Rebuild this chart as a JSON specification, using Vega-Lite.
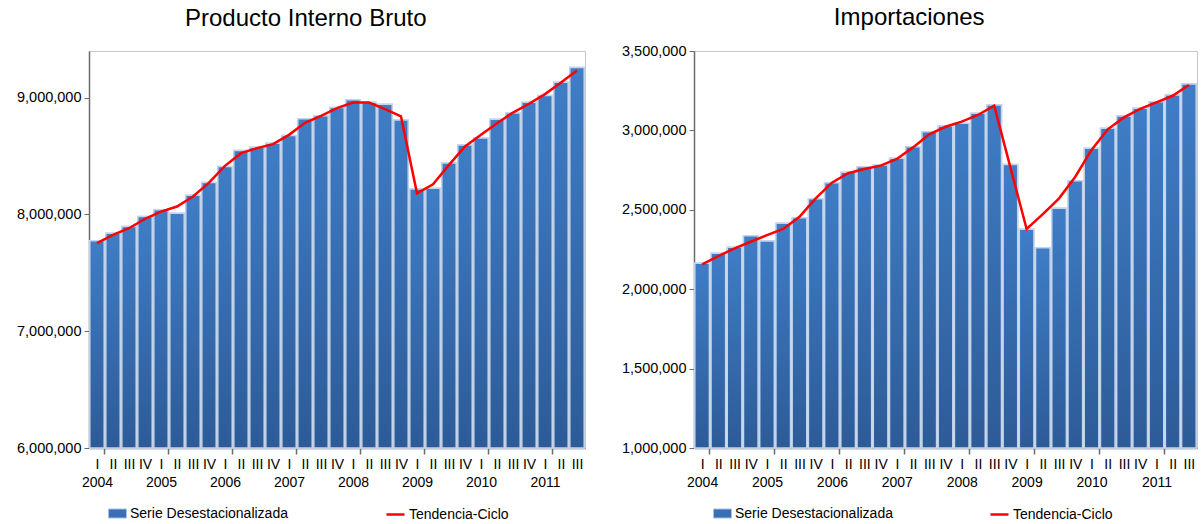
{
  "$schema": "https://vega.github.io/schema/vega-lite/v6.json",
  "padding": {"left": 15, "top": 5, "right": 7, "bottom": 0},
  "config": {
    "font": "Liberation Sans",
    "view": {"stroke": "#c8c8c8", "strokeWidth": 1},
    "title": {"fontSize": 24, "fontWeight": "normal", "color": "#000000", "anchor": "middle", "frame": "bounds"},
    "legend": {"title": null, "labelFontSize": 14, "labelColor": "#000000", "symbolSize": 324, "labelLimit": 0, "labelOffset": 3, "orient": "none"}
  },
  "spacing": 34,
  "resolve": {"scale": {"fill": "independent", "stroke": "independent"}},
  "hconcat": [
    {
      "title": {"text": "Producto Interno Bruto", "offset": 20, "dx": 5},
      "width": 496,
      "height": 397,
      "data": {"values": [
        {"k": "2004-I", "v": 7774000, "t": 7754000},
        {"k": "2004-II", "v": 7840000, "t": 7825000},
        {"k": "2004-III", "v": 7896000, "t": 7882000},
        {"k": "2004-IV", "v": 7982000, "t": 7962000},
        {"k": "2005-I", "v": 8040000, "t": 8025000},
        {"k": "2005-II", "v": 8011000, "t": 8068000},
        {"k": "2005-III", "v": 8165000, "t": 8154000},
        {"k": "2005-IV", "v": 8273000, "t": 8273000},
        {"k": "2006-I", "v": 8410000, "t": 8416000},
        {"k": "2006-II", "v": 8548000, "t": 8525000},
        {"k": "2006-III", "v": 8576000, "t": 8568000},
        {"k": "2006-IV", "v": 8610000, "t": 8602000},
        {"k": "2007-I", "v": 8676000, "t": 8682000},
        {"k": "2007-II", "v": 8820000, "t": 8785000},
        {"k": "2007-III", "v": 8845000, "t": 8845000},
        {"k": "2007-IV", "v": 8916000, "t": 8911000},
        {"k": "2008-I", "v": 8982000, "t": 8959000},
        {"k": "2008-II", "v": 8962000, "t": 8959000},
        {"k": "2008-III", "v": 8945000, "t": 8902000},
        {"k": "2008-IV", "v": 8810000, "t": 8840000},
        {"k": "2009-I", "v": 8219000, "t": 8182000},
        {"k": "2009-II", "v": 8225000, "t": 8259000},
        {"k": "2009-III", "v": 8440000, "t": 8425000},
        {"k": "2009-IV", "v": 8596000, "t": 8582000},
        {"k": "2010-I", "v": 8654000, "t": 8682000},
        {"k": "2010-II", "v": 8816000, "t": 8782000},
        {"k": "2010-III", "v": 8868000, "t": 8873000},
        {"k": "2010-IV", "v": 8962000, "t": 8948000},
        {"k": "2011-I", "v": 9019000, "t": 9031000},
        {"k": "2011-II", "v": 9133000, "t": 9130000},
        {"k": "2011-III", "v": 9259000, "t": 9233000}
      ]},
      "encoding": {
        "x": {"field": "k", "type": "nominal", "sort": null,
          "scale": {"paddingInner": 0.1, "paddingOuter": 0.05},
          "axis": {"title": null, "domain": true, "domainColor": "#6b6b6b", "domainWidth": 1.5,
            "ticks": true, "tickBand": "extent", "tickSize": 6, "tickWidth": 1.5, "tickColor": "#6b6b6b",
            "tickOpacity": {"condition": {"test": "isString(datum.value) && split(datum.value, '-')[1] === 'I'", "value": 1}, "value": 0},
            "labelExpr": "split(datum.value, '-')[1] === 'I' ? ['I', split(datum.value, '-')[0]] : split(datum.value, '-')[1]",
            "labelFontSize": 14, "labelLineHeight": 18, "labelPadding": 3, "labelOverlap": false, "labelBound": false,
            "labelFlush": false, "labelAngle": 0, "labelColor": "#000000", "labelBaseline": "top", "grid": false}},
        "y": {"field": "v", "type": "quantitative", "title": null,
          "scale": {"domain": [6000000, 9400000], "zero": false, "nice": false},
          "axis": {"title": null, "values": [6000000, 7000000, 8000000, 9000000], "format": ",.0f", "tickSize": 5,
            "tickColor": "#6b6b6b", "domainColor": "#6b6b6b", "domainWidth": 1.5, "labelFontSize": 14.5, "labelPadding": 3,
            "grid": false, "labelColor": "#000000"}}
      },
      "layer": [
        {
          "mark": {"type": "bar", "stroke": "#c3d4eb", "strokeWidth": 1.5},
          "encoding": {
            "y2": {"datum": 6000000},
            "fill": {"datum": "Serie Desestacionalizada", "type": "nominal",
              "scale": {"range": ["#3a6fb5"]},
              "legend": {"legendX": 19, "legendY": 453, "symbolType": "M-1,-0.5H1V0.5H-1Z",
                "symbolStrokeColor": "#a9c1e3", "symbolStrokeWidth": 1, "symbolOpacity": 1}}
          }
        },
        {
          "mark": {"type": "bar", "stroke": "#c3d4eb", "strokeWidth": 1.5,
            "fill": {"gradient": "linear", "x1": 0, "y1": 0, "x2": 0, "y2": 1,
              "stops": [{"offset": 0, "color": "#3f7dc6"}, {"offset": 1, "color": "#2d5b97"}]}},
          "encoding": {
            "y2": {"datum": 6000000}
          }
        },
        {
          "mark": {"type": "line", "strokeWidth": 2.5},
          "encoding": {
            "y": {"field": "t", "type": "quantitative", "title": null,
              "axis": {"title": null, "values": [6000000, 7000000, 8000000, 9000000], "format": ",.0f", "tickSize": 5,
                "tickColor": "#6b6b6b", "domainColor": "#6b6b6b", "domainWidth": 1.5, "labelFontSize": 14.5, "labelPadding": 3,
                "grid": false, "labelColor": "#000000"}},
            "stroke": {"datum": "Tendencia-Ciclo", "type": "nominal",
              "scale": {"range": ["#ff0000"]},
              "legend": {"legendX": 296, "legendY": 453, "symbolType": "stroke", "symbolStrokeWidth": 2.5}}
          }
        }
      ]
    },
    {
      "title": {"text": "Importaciones", "offset": 13},
      "width": 503,
      "height": 397,
      "data": {"values": [
        {"k": "2004-I", "v": 2163000, "t": 2157000},
        {"k": "2004-II", "v": 2226000, "t": 2209000},
        {"k": "2004-III", "v": 2264000, "t": 2257000},
        {"k": "2004-IV", "v": 2337000, "t": 2299000},
        {"k": "2005-I", "v": 2304000, "t": 2341000},
        {"k": "2005-II", "v": 2415000, "t": 2379000},
        {"k": "2005-III", "v": 2450000, "t": 2456000},
        {"k": "2005-IV", "v": 2570000, "t": 2572000},
        {"k": "2006-I", "v": 2671000, "t": 2671000},
        {"k": "2006-II", "v": 2736000, "t": 2730000},
        {"k": "2006-III", "v": 2771000, "t": 2757000},
        {"k": "2006-IV", "v": 2782000, "t": 2778000},
        {"k": "2007-I", "v": 2824000, "t": 2820000},
        {"k": "2007-II", "v": 2897000, "t": 2893000},
        {"k": "2007-III", "v": 2992000, "t": 2975000},
        {"k": "2007-IV", "v": 3028000, "t": 3023000},
        {"k": "2008-I", "v": 3045000, "t": 3055000},
        {"k": "2008-II", "v": 3108000, "t": 3097000},
        {"k": "2008-III", "v": 3160000, "t": 3156000},
        {"k": "2008-IV", "v": 2786000, "t": 2767000},
        {"k": "2009-I", "v": 2377000, "t": 2379000},
        {"k": "2009-II", "v": 2261000, "t": 2473000},
        {"k": "2009-III", "v": 2509000, "t": 2572000},
        {"k": "2009-IV", "v": 2683000, "t": 2708000},
        {"k": "2010-I", "v": 2887000, "t": 2877000},
        {"k": "2010-II", "v": 3013000, "t": 3007000},
        {"k": "2010-III", "v": 3091000, "t": 3082000},
        {"k": "2010-IV", "v": 3139000, "t": 3135000},
        {"k": "2011-I", "v": 3181000, "t": 3177000},
        {"k": "2011-II", "v": 3223000, "t": 3218000},
        {"k": "2011-III", "v": 3292000, "t": 3286000}
      ]},
      "encoding": {
        "x": {"field": "k", "type": "nominal", "sort": null,
          "scale": {"paddingInner": 0.1, "paddingOuter": 0.05},
          "axis": {"title": null, "domain": true, "domainColor": "#6b6b6b", "domainWidth": 1.5,
            "ticks": true, "tickBand": "extent", "tickSize": 6, "tickWidth": 1.5, "tickColor": "#6b6b6b",
            "tickOpacity": {"condition": {"test": "isString(datum.value) && split(datum.value, '-')[1] === 'I'", "value": 1}, "value": 0},
            "labelExpr": "split(datum.value, '-')[1] === 'I' ? ['I', split(datum.value, '-')[0]] : split(datum.value, '-')[1]",
            "labelFontSize": 14, "labelLineHeight": 18, "labelPadding": 3, "labelOverlap": false, "labelBound": false,
            "labelFlush": false, "labelAngle": 0, "labelColor": "#000000", "labelBaseline": "top", "grid": false}},
        "y": {"field": "v", "type": "quantitative", "title": null,
          "scale": {"domain": [1000000, 3500000], "zero": false, "nice": false},
          "axis": {"title": null, "values": [1000000, 1500000, 2000000, 2500000, 3000000, 3500000], "format": ",.0f", "tickSize": 5,
            "tickColor": "#6b6b6b", "domainColor": "#6b6b6b", "domainWidth": 1.5, "labelFontSize": 14.5, "labelPadding": 3,
            "grid": false, "labelColor": "#000000"}}
      },
      "layer": [
        {
          "mark": {"type": "bar", "stroke": "#c3d4eb", "strokeWidth": 1.5},
          "encoding": {
            "y2": {"datum": 1000000},
            "fill": {"datum": "Serie Desestacionalizada", "type": "nominal",
              "scale": {"range": ["#3a6fb5"]},
              "legend": {"legendX": 19, "legendY": 453, "symbolType": "M-1,-0.5H1V0.5H-1Z",
                "symbolStrokeColor": "#a9c1e3", "symbolStrokeWidth": 1, "symbolOpacity": 1}}
          }
        },
        {
          "mark": {"type": "bar", "stroke": "#c3d4eb", "strokeWidth": 1.5,
            "fill": {"gradient": "linear", "x1": 0, "y1": 0, "x2": 0, "y2": 1,
              "stops": [{"offset": 0, "color": "#3f7dc6"}, {"offset": 1, "color": "#2d5b97"}]}},
          "encoding": {
            "y2": {"datum": 1000000}
          }
        },
        {
          "mark": {"type": "line", "strokeWidth": 2.5},
          "encoding": {
            "y": {"field": "t", "type": "quantitative", "title": null,
              "axis": {"title": null, "values": [1000000, 1500000, 2000000, 2500000, 3000000, 3500000], "format": ",.0f", "tickSize": 5,
                "tickColor": "#6b6b6b", "domainColor": "#6b6b6b", "domainWidth": 1.5, "labelFontSize": 14.5, "labelPadding": 3,
                "grid": false, "labelColor": "#000000"}},
            "stroke": {"datum": "Tendencia-Ciclo", "type": "nominal",
              "scale": {"range": ["#ff0000"]},
              "legend": {"legendX": 295, "legendY": 453, "symbolType": "stroke", "symbolStrokeWidth": 2.5}}
          }
        }
      ]
    }
  ]
}
